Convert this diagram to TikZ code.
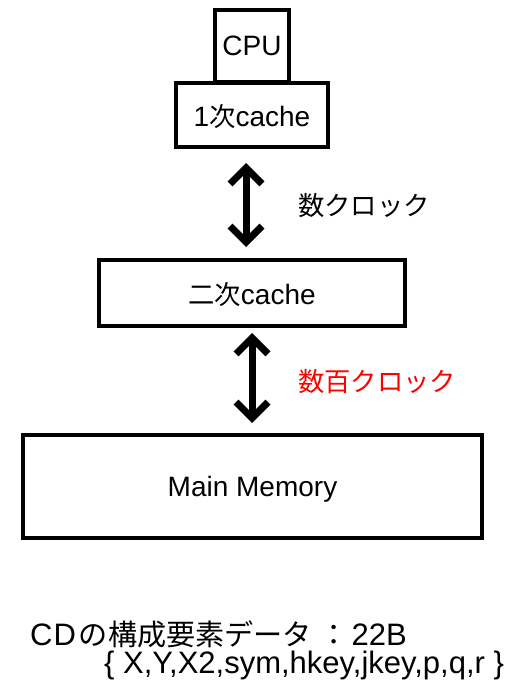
\documentclass[tikz,border=0pt]{standalone}
\usepackage{fontspec}
\setmainfont{Liberation Sans}
\newfontfamily\jp[Scale=0.94]{Noto Sans CJK JP}
\usetikzlibrary{arrows.meta}
\tikzset{
  box/.style={draw=black, line width=4pt, inner sep=0pt, text depth=0pt, font=\fontsize{28}{32}\selectfont},
  lbl/.style={inner sep=0pt, anchor=west, font=\fontsize{28}{32}\selectfont},
  dbl/.style={line width=7pt, {Straight Barb[length=16pt,width=32pt]}-{Straight Barb[length=16pt,width=32pt]}},
}
\begin{document}
\begin{tikzpicture}[x=1pt,y=-1pt]
\useasboundingbox (0,0) rectangle (506,684);
% memory hierarchy boxes
\node[box, minimum width=74pt, minimum height=72pt] (cpu) at (252,46) {CPU};
\node[box, minimum width=152pt, minimum height=64pt] (l1) at (252,115) {1{\jp 次}cache};
\node[box, minimum width=306pt, minimum height=66pt] (l2) at (252,293) {{\jp 二次}cache};
\node[box, minimum width=459pt, minimum height=103pt] (mem) at (252.5,486.5) {Main Memory};
% access latencies
\coordinate (a1t) at (246,163);
\coordinate (a1b) at (246,247);
\coordinate (a2t) at (252,333);
\coordinate (a2b) at (252,423);
\draw[dbl] (a1t) -- (a1b);
\draw[dbl] (a2t) -- (a2b);
\node[lbl] (lat1) at (298,206) {\jp 数クロック};
\node[lbl, text=red] (lat2) at (298,382) {\jp 数百クロック};
% record layout
\node[lbl, font=\fontsize{31}{36}\selectfont] (rec) at (30,634) {C\kern1ptD\kern3pt{\jp の構成要素データ\hspace{0.25em}：}\hspace{0.1em}22B};
\node[lbl, font=\fontsize{31}{36}\selectfont] (fields) at (104,665) {\{ X,Y,X2,sym,hkey,jkey,p,q,r \}};
\end{tikzpicture}
\end{document}
